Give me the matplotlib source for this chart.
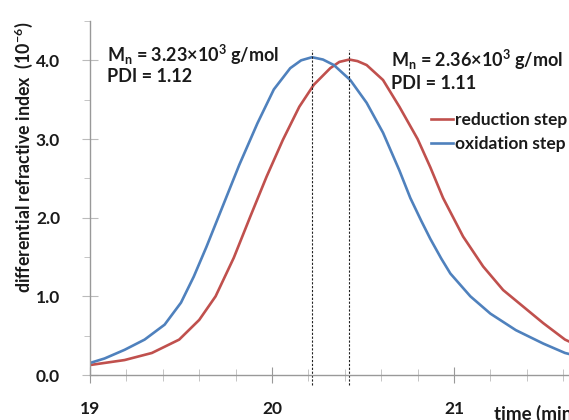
import matplotlib
matplotlib.use("Agg")
import matplotlib.pyplot as plt
from matplotlib.ticker import MultipleLocator

plt.rcParams['font.family'] = ['Lato', 'DejaVu Sans']
plt.rcParams['mathtext.fontset'] = 'custom'
plt.rcParams['mathtext.rm'] = 'Lato'
plt.rcParams['mathtext.bf'] = 'Lato:bold'
plt.rcParams['mathtext.default'] = 'bf'

# data (time in min, signal in 1e-6)
t_ox = [19.01, 19.08, 19.19, 19.30, 19.41, 19.50, 19.57, 19.64, 19.73, 19.82, 19.92, 20.01,
        20.10, 20.16, 20.22, 20.28, 20.34, 20.43, 20.52, 20.61, 20.70, 20.76, 20.82, 20.87,
        20.93, 20.98, 21.09, 21.20, 21.34, 21.49, 21.61, 21.75]
v_ox = [0.16, 0.21, 0.32, 0.45, 0.64, 0.92, 1.25, 1.63, 2.15, 2.67, 3.20, 3.63,
        3.90, 4.00, 4.04, 4.01, 3.94, 3.75, 3.46, 3.08, 2.60, 2.25, 1.96, 1.73,
        1.48, 1.29, 1.00, 0.78, 0.57, 0.40, 0.28, 0.20]
t_red = [19.01, 19.19, 19.34, 19.49, 19.60, 19.69, 19.79, 19.88, 19.97, 20.06, 20.15, 20.23,
         20.32, 20.37, 20.425, 20.47, 20.52, 20.61, 20.70, 20.80, 20.87, 20.94, 21.05, 21.16,
         21.27, 21.38, 21.49, 21.61, 21.75]
v_red = [0.13, 0.19, 0.28, 0.45, 0.70, 1.00, 1.49, 2.01, 2.52, 2.99, 3.41, 3.69,
         3.90, 3.98, 4.01, 3.99, 3.94, 3.75, 3.41, 3.00, 2.64, 2.25, 1.76, 1.38,
         1.08, 0.87, 0.66, 0.45, 0.30]
peak_ox = 20.22
peak_red = 20.425
label_red = "reduction step"
label_ox = "oxidation step"
ann1 = ["M$_\\mathbf{n}$ = 3.23×10$^\\mathbf{3}$ g/mol", "PDI = 1.12"]
ann2 = ["M$_\\mathbf{n}$ = 2.36×10$^\\mathbf{3}$ g/mol", "PDI = 1.11"]
y_ticks = [0, 1, 2, 3, 4]
x_ticks = [19, 20, 21]

red = '#c0504d'
blue = '#4f81bd'
txt = '#1a1a1a'
gray = '#999999'

fig = plt.figure(figsize=(5.69, 4.20), dpi=100)
ax = fig.add_axes([90/569, 45/420, 546/569, 354/420])
ax.plot(t_red, v_red, color=red, lw=1.9, label=label_red, solid_joinstyle='round')
ax.plot(t_ox, v_ox, color=blue, lw=1.9, label=label_ox, solid_joinstyle='round')
for p in (peak_ox, peak_red):
    ax.plot([p, p], [-0.13, 4.13], color='#222222', lw=0.8, ls=(0, (2, 1.5)), clip_on=False)

ax.set_xlim(19, 22)
ax.set_ylim(0, 4.5)
ax.set_xticks(x_ticks)
ax.set_xticklabels([str(x) for x in x_ticks])
ax.set_yticks(y_ticks)
ax.set_yticklabels([f"{y:.1f}" for y in y_ticks])
ax.xaxis.set_minor_locator(MultipleLocator(0.2))
ax.yaxis.set_minor_locator(MultipleLocator(0.5))
for s in ('top', 'right'):
    ax.spines[s].set_visible(False)
for s in ('left', 'bottom'):
    ax.spines[s].set_color(gray)
    ax.spines[s].set_linewidth(1.0)
ax.tick_params(axis='x', which='major', direction='inout', length=12, color=gray,
               pad=13, labelsize=12.5, labelcolor=txt)
ax.tick_params(axis='x', which='minor', direction='inout', length=8, color='#bbbbbb')
ax.tick_params(axis='y', which='major', direction='inout', length=11, color='#bbbbbb',
               pad=16, labelsize=12.5, labelcolor=txt)
ax.tick_params(axis='y', which='minor', direction='out', length=4, color='#bbbbbb')
for lab in ax.get_xticklabels() + ax.get_yticklabels():
    lab.set_fontweight('bold')

fig.text(24/569, 1 - 157/420, "differential refractive index  (10$^\\mathbf{-6}$)",
         rotation=90, ha='center', va='center', fontsize=12.8, fontweight='bold', color=txt)
fig.text(494/569, 6/420, "time (min)", fontsize=13.5, fontweight='bold',
         color=txt, va='center', ha='left')

ax.text(19.095, 4.07, ann1[0], fontsize=13, fontweight='bold', color=txt, va='center')
ax.text(19.095, 3.79, ann1[1], fontsize=13, fontweight='bold', color=txt, va='center')
ax.text(20.655, 4.01, ann2[0], fontsize=13, fontweight='bold', color=txt, va='center')
ax.text(20.655, 3.71, ann2[1], fontsize=13, fontweight='bold', color=txt, va='center')

leg = ax.legend(loc='upper left', bbox_to_anchor=(341/546, 1 - 91/354), frameon=False,
                handlelength=1.25, handletextpad=0.15, borderpad=0, borderaxespad=0,
                labelspacing=0.45, prop={'family': 'Lato', 'weight': 'bold', 'size': 12.5})
for t in leg.get_texts():
    t.set_color(txt)

fig.savefig('out.png', dpi=100)
